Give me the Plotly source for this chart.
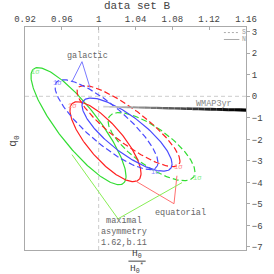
import numpy as np
import plotly.graph_objects as go

# ---- data -------------------------------------------------------------
# ellipse parameters: centre H0/H0*, centre q0, sigma_H, sigma_q, correlation
ell_names = ["green N", "green S", "red N", "red S", "blue N", "blue S"]
ell_cx    = [0.9781, 1.0574, 1.0074, 1.0324, 1.0308, 1.0085]
ell_cy    = [-1.386, -2.34, -2.107, -1.386, -1.78, -1.316]
ell_sx    = [0.0516, 0.0472, 0.0386, 0.0559, 0.0489, 0.0559]
ell_sy    = [2.72, 1.58, 1.86, 1.884, 1.70, 2.09]
ell_rho   = [-0.853, -0.75, -0.79, -0.86, -0.80, -0.84]
ell_color = ["#33dd33", "#33dd33", "#ff2020", "#ff2020", "#4a4aff", "#4a4aff"]
ell_dash  = ["solid", "6px,3px", "solid", "6px,3px", "solid", "6px,3px"]

wmap_h = [1.005, 1.16]
wmap_q = [-0.48, -0.64]

sig_h = [0.9309, 0.9558, 0.9721, 1.0612, 1.0862, 1.1068]
sig_q = [1.15, 0.64, -0.43, -3.50, -3.27, -3.78]
sig_c = ["#88ee88", "#8888ff", "#ff8888", "#8888ff", "#ff8888", "#88ee88"]

# pointer lines: target, apex, target
gal_h = [0.971, 0.9819, 0.9906]
gal_q = [0.68, 1.61, 0.40]
equ_h = [1.0395, 1.0818, 1.085]
equ_q = [-3.92, -4.99, -3.69]
max_h = [0.971, 1.021, 1.0905]
max_q = [-2.71, -5.69, -4.01]

x_ticks = [0.92, 0.96, 1.00, 1.04, 1.08, 1.12, 1.16]
x_labels = ["0.92", "0.96", "1", "1.04", "1.08", "1.12", "1.16"]
y_ticks = list(range(-7, 4))

FONT = "Liberation Mono, Courier New, monospace"

fig = go.Figure()

# reference crosshair
fig.add_shape(type="line", x0=1, x1=1, y0=0, y1=1, xref="x", yref="paper",
              line=dict(color="#cccccc", width=1, dash="4px,3px"), layer="below")
fig.add_shape(type="line", x0=0, x1=1, y0=0, y1=0, xref="paper", yref="y",
              line=dict(color="#cccccc", width=1, dash="4px,3px"), layer="below")

t = np.linspace(0, 2 * np.pi, 200)
for cx, cy, sx, sy, r, c, d in zip(ell_cx, ell_cy, ell_sx, ell_sy, ell_rho, ell_color, ell_dash):
    xs = cx + sx * np.cos(t)
    ys = cy + sy * (r * np.cos(t) + np.sqrt(1 - r * r) * np.sin(t))
    fig.add_trace(go.Scatter(x=xs, y=ys, mode="lines",
                             line=dict(color=c, width=1.2, dash=d),
                             hoverinfo="skip", showlegend=False))

# WMAP band with grey->black gradient
nseg = 24
for i in range(nseg):
    f0, f1 = i / nseg, (i + 1) / nseg
    xa = wmap_h[0] + (wmap_h[1] - wmap_h[0]) * np.array([f0, f1])
    ya = wmap_q[0] + (wmap_q[1] - wmap_q[0]) * np.array([f0, f1])
    g = int(220 * (1 - f1) ** 1.3)
    fig.add_trace(go.Scatter(x=xa, y=ya, mode="lines",
                             line=dict(color=f"rgb({g},{g},{g})", width=1.6 + 1.6 * f1),
                             hoverinfo="skip", showlegend=False))

# pointer lines
for hs, qs, c in [(gal_h, gal_q, "#7a7aff"), (equ_h, equ_q, "#ff7070"), (max_h, max_q, "#88ee55")]:
    fig.add_trace(go.Scatter(x=hs, y=qs, mode="lines", line=dict(color=c, width=1),
                             hoverinfo="skip", showlegend=False))

ann = []
for h, q, c in zip(sig_h, sig_q, sig_c):
    ann.append(dict(x=h, y=q, xref="x", yref="y", text="1σ", showarrow=False,
                    font=dict(family=FONT, size=7, color=c)))

gray = "#666666"
ann += [
    dict(x=0.9884, y=1.85, xref="x", yref="y", text="galactic", showarrow=False,
         font=dict(family=FONT, size=8.5, color=gray)),
    dict(x=1.0894, y=-5.41, xref="x", yref="y", text="equatorial", showarrow=False,
         font=dict(family=FONT, size=8.5, color=gray)),
    dict(x=1.0275, y=-6.30, xref="x", yref="y", text="maximal<br>asymmetry<br>1.62,b.11",
         showarrow=False, font=dict(family=FONT, size=8.5, color=gray)),
    dict(x=1.125, y=-0.34, xref="x", yref="y", text="WMAP3yr", showarrow=False,
         font=dict(family=FONT, size=8.5, color="#888888")),
    dict(x=0.507, y=1.096, xref="paper", yref="paper", text="data set B", showarrow=False,
         xanchor="center", yanchor="middle",
         font=dict(family=FONT, size=11, color="#444444")),
    dict(x=-0.05, y=0.49, xref="paper", yref="paper", text="q<sub>0</sub>", textangle=-90,
         xanchor="center", yanchor="middle",
         showarrow=False, font=dict(family=FONT, size=11, color="#444444")),
    dict(x=0.507, y=-0.02, xref="paper", yref="paper", text="H<sub>0</sub>", yanchor="middle",
         xanchor="center", showarrow=False, font=dict(family=FONT, size=9.5, color="#444444")),
    dict(x=0.507, y=-0.08, xref="paper", yref="paper", text="H<sub>0</sub><sup>*</sup>",
         xanchor="center", yanchor="middle", showarrow=False,
         font=dict(family=FONT, size=9.5, color="#444444")),
    dict(x=0.975, y=0.975, xref="paper", yref="paper", text="S", xanchor="left", yanchor="middle",
         showarrow=False, font=dict(family=FONT, size=6.5, color="#999999")),
    dict(x=0.975, y=0.944, xref="paper", yref="paper", text="N", xanchor="left", yanchor="middle",
         showarrow=False, font=dict(family=FONT, size=6.5, color="#999999")),
]

shapes = [
    dict(type="line", xref="paper", yref="paper", x0=0.468, x1=0.546, y0=-0.05, y1=-0.05,
         line=dict(color="#444444", width=1)),
    dict(type="line", xref="paper", yref="paper", x0=0.9, x1=0.97, y0=0.975, y1=0.975,
         line=dict(color="#aaaaaa", width=1, dash="2px,2px")),
    dict(type="line", xref="paper", yref="paper", x0=0.9, x1=0.97, y0=0.944, y1=0.944,
         line=dict(color="#aaaaaa", width=1)),
]
for s in shapes:
    fig.add_shape(**s)

fig.update_layout(
    width=274, height=274,
    margin=dict(l=25, r=28, t=27, b=24, autoexpand=False),
    paper_bgcolor="white", plot_bgcolor="white",
    annotations=ann,
    xaxis=dict(range=[0.92, 1.16], side="top", tickvals=x_ticks, ticktext=x_labels,
               ticks="inside", ticklen=3, tickcolor="#aaaaaa", automargin=False,
               showline=True, linecolor="#aaaaaa", linewidth=1, mirror=True,
               showgrid=False, zeroline=False,
               tickfont=dict(family=FONT, size=9, color="#444444")),
    yaxis=dict(range=[-7.14, 3.22], side="right", tickvals=y_ticks, automargin=False,
               ticks="outside", ticklen=3, tickcolor="#aaaaaa",
               showline=True, linecolor="#aaaaaa", linewidth=1, mirror=True,
               showgrid=False, zeroline=False,
               tickfont=dict(family=FONT, size=9, color="#444444")),
)

fig.write_html("out.html", config={"displayModeBar": False},
               post_script="document.body.style.margin='0px';")
